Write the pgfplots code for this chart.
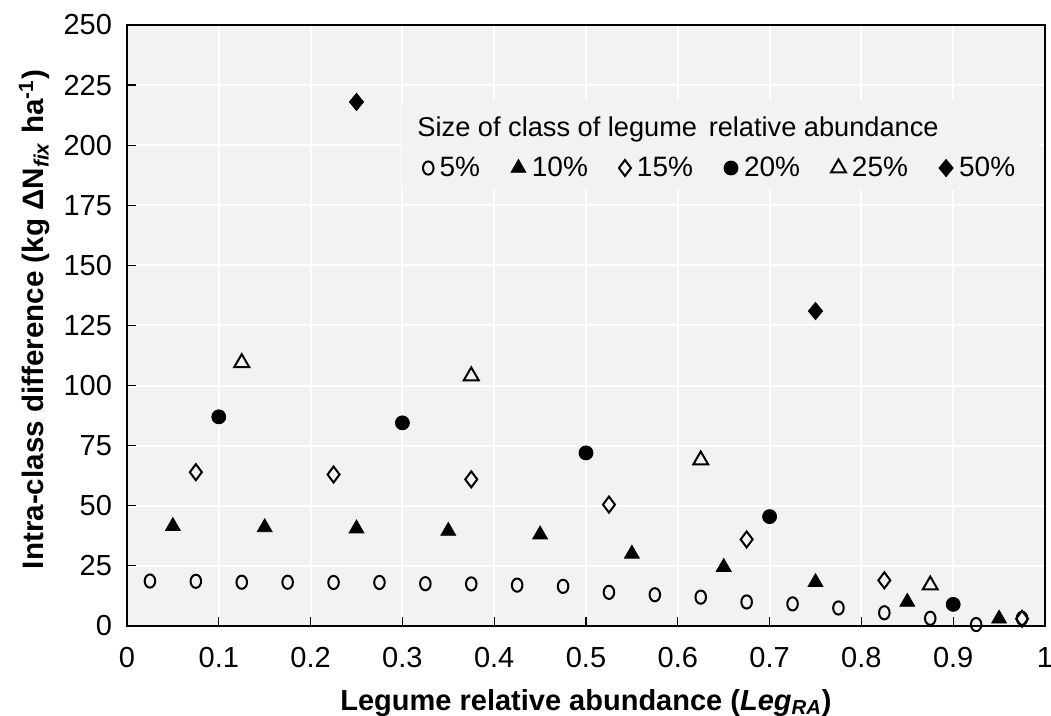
\documentclass[border=0pt]{standalone}
\usepackage{fontspec}
\setmainfont{Liberation Sans}
\usepackage{xcolor}
\usepackage{pgfplots}
\pgfplotsset{compat=1.18}
\definecolor{PANEL}{HTML}{F2F2F2}

\begin{document}
\begin{tikzpicture}
\begin{axis}[
  scale only axis,
  width=459pt, height=300.5pt,
  xmin=0, xmax=1, ymin=0, ymax=250,
  xtick={0,0.1,...,1.0},
  xticklabels={0,0.1,0.2,0.3,0.4,0.5,0.6,0.7,0.8,0.9,1},
  ytick={0,25,...,250},
  axis background/.style={fill=PANEL},
  grid=major,
  grid style={draw=white, line width=1pt},
  axis line style={draw=black, line width=0.7pt},
  tick pos=left, tick align=inside,
  major tick length=4.5pt,
  tick style={draw=black, line width=0.6pt},
  /pgf/number format/assume math mode=true,
  ticklabel style={font=\fontsize{14.5}{16}\selectfont},
  xticklabel style={yshift=-7pt},
  yticklabel style={xshift=-4pt},
  xlabel={\textbf{Legume relative abundance (\textit{Leg}\textsubscript{\textit{RA}})}},
  ylabel={\textbf{Intra-class difference (kg ΔN\textsubscript{\textit{fix}} ha\textsuperscript{-1})}},
  xlabel style={font=\fontsize{14.5}{16}\selectfont, yshift=-4pt},
  ylabel style={font=\fontsize{14.8}{17}\selectfont, yshift=0pt, xshift=3pt},
  legend columns=6,
  legend style={at={(rel axis cs:0.322,0.762)}, anchor=west, fill=none, draw=none,
    font=\fontsize{14}{15}\selectfont,
    /tikz/every odd column/.append style={column sep=1pt},
    /tikz/every even column/.append style={column sep=13.5pt},
    inner sep=0pt},
  legend image code/.code={\draw[mark repeat=2,mark phase=2,#1] plot coordinates {(0cm,0cm) (0.12cm,0cm) (0.24cm,0cm)};},
]
% legend panel covering the grid
\fill[PANEL] (rel axis cs:0.300,0.725) rectangle (rel axis cs:0.993,0.875);
\node[anchor=west, inner sep=0pt, font=\fontsize{13.6}{15}\selectfont] at (rel axis cs:0.316,0.826)
  {Size of class of legume\hspace{0.15em} relative abundance};

% 5% classes
\addplot[only marks, mark=o, mark size=3.3pt, mark options={draw=black, fill=white, line width=1pt, xscale=0.8}] coordinates {
(0.025,18.7) (0.075,18.6) (0.125,18.2) (0.175,18.2) (0.225,18.1) (0.275,18.1)
(0.325,17.6) (0.375,17.5) (0.425,17.0) (0.475,16.5) (0.525,14.0) (0.575,13.0)
(0.625,12.0) (0.675,10.0) (0.725,9.2) (0.775,7.5) (0.825,5.5) (0.875,3.2)
(0.925,0.6) (0.975,3.2)
};
\addlegendentry{5\%}
% 10% classes
\addplot[only marks, mark=triangle*, mark size=4.3pt, mark options={draw=black, fill=black}] coordinates {
(0.05,41.5) (0.15,41.0) (0.25,40.5) (0.35,39.5) (0.45,38.0) (0.55,30.0)
(0.65,24.5) (0.75,18.2) (0.85,10.0) (0.95,3.0)
};
\addlegendentry{10\%}
% 15% classes
\addplot[only marks, mark=diamond, mark size=4pt, mark options={draw=black, fill=white, line width=1pt}] coordinates {
(0.075,64.0) (0.225,63.0) (0.375,61.0) (0.525,50.5) (0.675,36.0) (0.825,19.0) (0.975,3.0)
};
\addlegendentry{15\%}
% 20% classes
\addplot[only marks, mark=*, mark size=3.5pt, mark options={draw=black, fill=black}] coordinates {
(0.1,87.0) (0.3,84.5) (0.5,72.0) (0.7,45.5) (0.9,9.0)
};
\addlegendentry{20\%}
% 25% classes
\addplot[only marks, mark=triangle, mark size=4.3pt, mark options={draw=black, fill=white, line width=1pt}] coordinates {
(0.125,109.5) (0.375,104.0) (0.625,69.0) (0.875,17.0)
};
\addlegendentry{25\%}
% 50% classes
\addplot[only marks, mark=diamond*, mark size=4.3pt, mark options={draw=black, fill=black, xscale=1.1}] coordinates {
(0.25,218.0) (0.75,131.0)
};
\addlegendentry{50\%}
\end{axis}
\pgfresetboundingbox
\path ([shift={(-63.5pt,-45pt)}]current axis.south west) rectangle ([shift={(3pt,12.5pt)}]current axis.north east);
\end{tikzpicture}
\end{document}
